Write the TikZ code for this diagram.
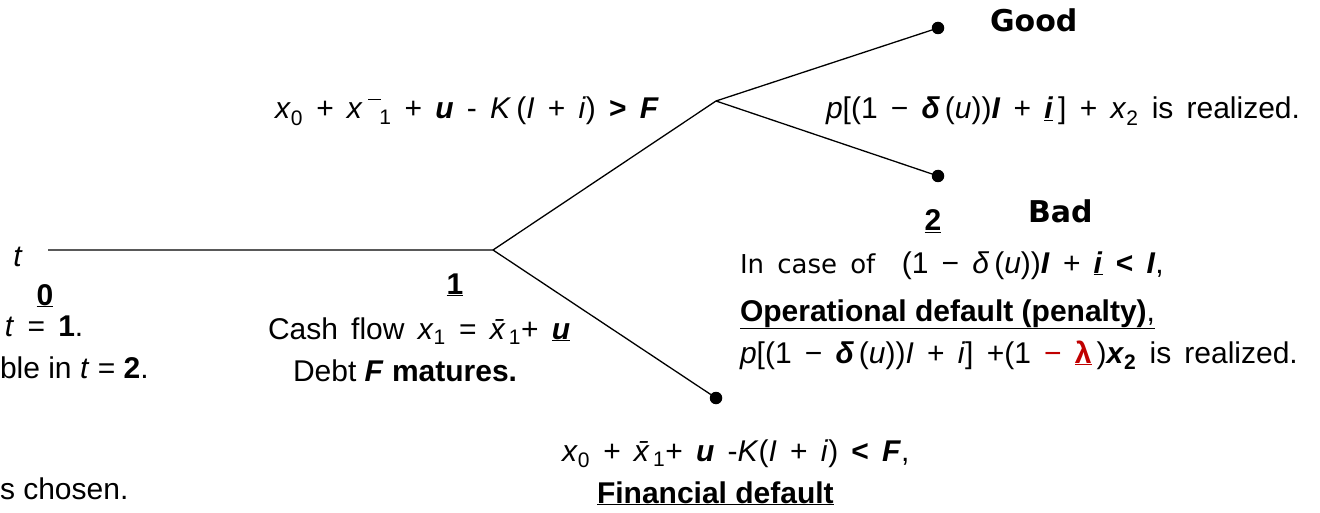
\documentclass[tikz,border=0pt]{standalone}
\usepackage{fontspec}
\setmainfont{Liberation Sans}
\newfontfamily\tahfont{DejaVu Sans}
\definecolor{lamR}{HTML}{C00000}
\newcommand{\tx}{\fontsize{30}{36}\selectfont}
\newcommand{\fx}{\fontsize{30}{36}\selectfont\spaceskip=.44em plus .1em\relax}
\newcommand{\hd}{\tahfont\bfseries\fontsize{30}{36}\selectfont}
\newcommand{\tah}{\tahfont\fontsize{26}{30}\selectfont}
\newcommand{\iv}[1]{\textit{#1}}
\newcommand{\bv}[1]{\textbf{\textit{#1}}}
\newcommand{\xb}{\textit{\=x}}
\newcommand{\xgap}{\textit{x}\hspace{.18em}\raisebox{.62em}{\rule{.42em}{1.4pt}}\hspace{-.05em}}
\tikzset{dot/.style={circle,fill,inner sep=0pt,minimum size=12.5pt},
 branch/.style={line width=1.3pt},
 lab/.style={anchor=base west,font=\tx},
 frm/.style={anchor=base west,font=\fx}}

\begin{document}
\begin{tikzpicture}[x=1pt,y=-1pt,every node/.style={inner sep=0pt,outer sep=0pt}]
\path[use as bounding box] (0,0) rectangle (1320,513);
% ---------- tree
\coordinate (t0) at (48,250);
\coordinate (t1) at (493,250);
\coordinate (up) at (716,101);
\node[dot] (fin) at (716,398) {};
\node[dot] (good) at (938,28) {};
\node[dot] (bad) at (938,176) {};
\draw[branch] (t0) -- (t1) -- (up) -- (good);
\draw[branch] (up) -- (bad);
\draw[branch] (t1) -- (fin);
% ---------- date 0
\node[anchor=base,font=\tx] (tlab) at (18,266) {\iv{t}};
\node[anchor=base,font=\tx] (d0) at (45,305) {\underline{\textbf{0}}};
\node[frm] (one) at (5,336) {\iv{t} = \textbf{1}.};
\node[lab] (two) at (0,378) {ble in \iv{t} = \textbf{2}.};
\node[lab] (chosen) at (0,499) {s chosen.};
% ---------- date 1
\node[anchor=base,font=\tx] (d1) at (455,294) {\underline{\textbf{1}}};
\node[frm] (cash) at (268,339) {Cash flow \iv{x}\textsubscript{1} = \xb\textsubscript{1}+ \underline{\bv{u}}};
\node[lab] (debt) at (293,381) {Debt \bv{F} \textbf{matures.}};
\node[frm] (cont) at (275,119) {\iv{x}\textsubscript{0} + \xgap\textsubscript{1} + \bv{u} - \iv{K}\,(\iv{I} + \iv{i}) \textbf{>} \bv{F}};
\node[frm] (fcond) at (562,461) {\iv{x}\textsubscript{0} + \xb\textsubscript{1}+ \bv{u} -\iv{K}(\iv{I} + \iv{i}) \textbf{<} \bv{F},};
\node[lab] (fdef) at (597,503) {\underline{\textbf{Financial default}}};
% ---------- date 2
\node[frm] (gpay) at (826,119) {\iv{p}[(1 − \bv{δ}\,(\iv{u}))\bv{I} + \underline{\bv{i}}\,] + \iv{x}\textsubscript{2} is realized.};
\node[anchor=base west,font=\hd] (glab) at (990,32) {Good};
\node[anchor=base,font=\tx] (d2) at (933,231) {\underline{\textbf{2}}};
\node[anchor=base west,font=\hd] (blab) at (1028,223) {Bad};
\node[frm] (case) at (740,273) {{\tah In case of}\ \ (1 − \iv{δ}\,(\iv{u}))\bv{I} + \underline{\bv{i}}\ \textbf{<}\ \bv{I},};
\node[lab] (odef) at (740,321) {\underline{\textbf{Operational default (penalty)},}};
\node[frm] (bpay) at (740,363) {\iv{p}[(1 − \bv{δ}\,(\iv{u}))\iv{I} + \iv{i}] +(1 \textcolor{lamR}{− \underline{\textbf{λ}}}\,)\bv{x}\textsubscript{\textbf{2}} is realized.};
\end{tikzpicture}
\end{document}
